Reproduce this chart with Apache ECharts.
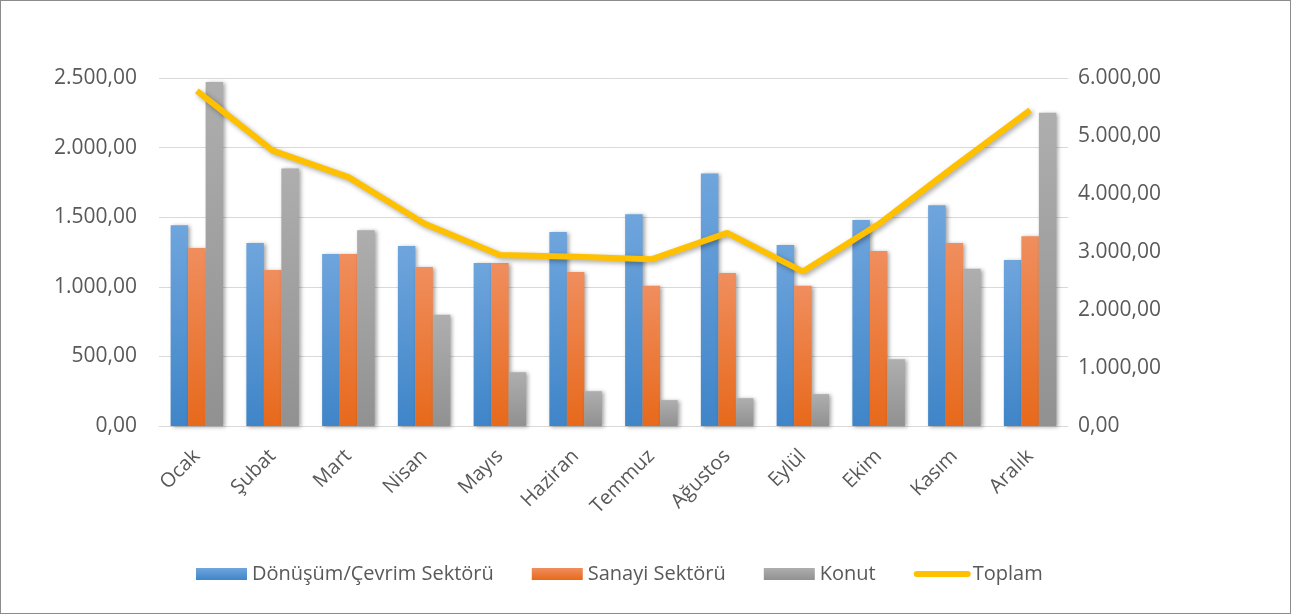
<!DOCTYPE html>
<html><head><meta charset="utf-8">
<script src="https://cdn.jsdelivr.net/npm/echarts@6/dist/echarts.min.js"></script>
<style>
html,body{margin:0;padding:0;background:#fff;}
#c{width:1291px;height:614px;box-sizing:border-box;border:1px solid #8c8c8c;}
</style></head><body>
<div id="c"></div>
<script>
const months = ["Ocak","Şubat","Mart","Nisan","Mayıs","Haziran","Temmuz","Ağustos","Eylül","Ekim","Kasım","Aralık"];
const donusum = [1443,1314,1236,1293,1171,1393,1521,1814,1300,1479,1586,1193];
const sanayi  = [1279,1121,1236,1143,1171,1107,1007,1100,1007,1257,1314,1364];
const konut   = [2471,1850,1407,800,386,250,186,200,229,479,1129,2250];
const toplam  = [5777,4749,4291,3492,2949,2920,2874,3331,2663,3480,4474,5446];
const seriesNames = ["Dönüşüm/Çevrim Sektörü","Sanayi Sektörü","Konut","Toplam"];

function trFmt(v){
  const s = Math.round(v).toString().replace(/\B(?=(\d{3})+(?!\d))/g,".");
  return s + ",00";
}
function grad(top,bottom){
  return new echarts.graphic.LinearGradient(0,0,0,1,[{offset:0,color:top},{offset:1,color:bottom}]);
}
const FONT = "Open Sans";
const chart = echarts.init(document.getElementById('c'));
const barCommon = {type:'bar', barWidth:17.5, barGap:'0%', barCategoryGap:'31%'};
const shadow = {shadowColor:'rgba(0,0,0,0.35)',shadowBlur:4,shadowOffsetX:2,shadowOffsetY:1};
chart.setOption({
  animation:false,
  textStyle:{fontFamily:FONT},
  grid:{left:158,right:222,top:77,bottom:187},
  legend:{
    top:558, left:190, itemWidth:51, itemHeight:12, itemGap:38,
    textStyle:{fontFamily:FONT,fontSize:20,color:'#595959'},
    data:[
      {name:seriesNames[0],icon:'rect'},
      {name:seriesNames[1],icon:'rect'},
      {name:seriesNames[2],icon:'rect'},
      {name:seriesNames[3],itemStyle:{opacity:0},lineStyle:{width:6,cap:'round',color:'#ffc000'}}
    ]
  },
  xAxis:{
    type:'category', data:months,
    axisLine:{lineStyle:{color:'#d9d9d9',width:1}},
    axisTick:{show:false},
    axisLabel:{rotate:45,fontSize:20,color:'#595959',fontFamily:FONT,margin:27,interval:0}
  },
  yAxis:[
    {type:'value',min:0,max:2500,interval:500,
     axisLine:{show:false},axisTick:{show:false},
     splitLine:{lineStyle:{color:'#d9d9d9',width:1}},
     axisLabel:{formatter:trFmt,fontSize:21,color:'#595959',fontFamily:FONT,margin:22}},
    {type:'value',min:0,max:6000,interval:1000,
     axisLine:{show:false},axisTick:{show:false},splitLine:{show:false},
     axisLabel:{formatter:trFmt,fontSize:21,color:'#595959',fontFamily:FONT,margin:10}}
  ],
  series:[
    Object.assign({name:seriesNames[0],data:donusum,
      itemStyle:Object.assign({color:grad('#6fa5dd','#3f85c8')},shadow)},barCommon),
    Object.assign({name:seriesNames[1],data:sanayi,
      itemStyle:Object.assign({color:grad('#f08e5e','#e7691b')},shadow)},barCommon),
    Object.assign({name:seriesNames[2],data:konut,
      itemStyle:Object.assign({color:grad('#aeaeae','#919191')},shadow)},barCommon),
    {name:seriesNames[3],type:'line',yAxisIndex:1,data:toplam,
     symbol:'none',z:5,
     lineStyle:{color:'#ffc000',width:6,shadowColor:'rgba(0,0,0,0.35)',shadowBlur:5,shadowOffsetX:2,shadowOffsetY:2},
     itemStyle:{color:'#ffc000'}}
  ]
});
</script>
</body></html>
